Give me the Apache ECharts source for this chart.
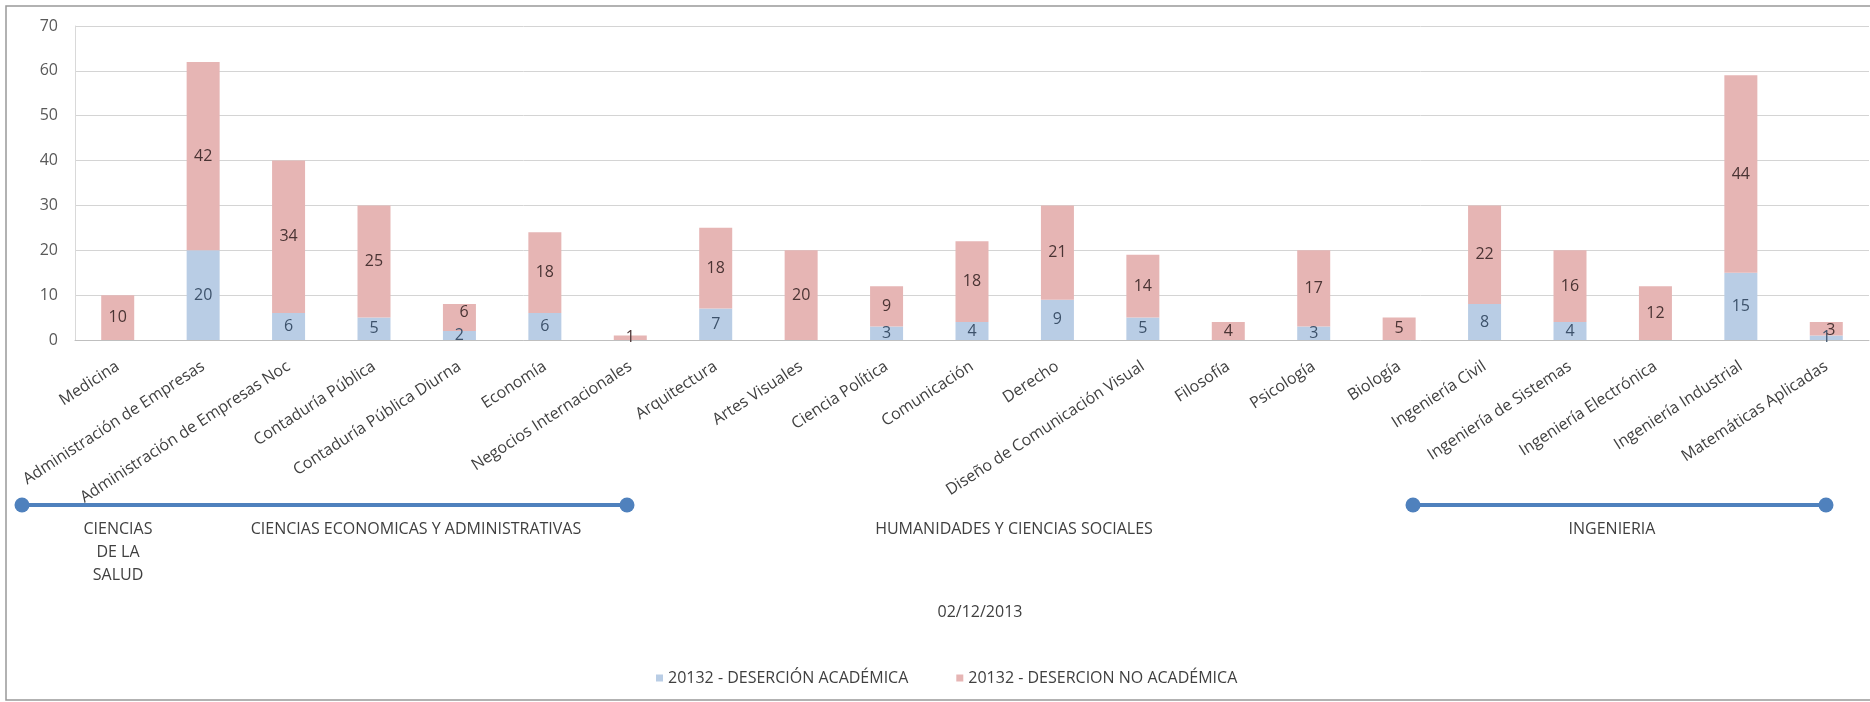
<!DOCTYPE html>
<html>
<head>
<meta charset="utf-8">
<script src="https://cdn.jsdelivr.net/npm/echarts@6/dist/echarts.min.js"></script>
<style>
html,body{margin:0;padding:0;background:#fff;}
#chart{width:1870px;height:702px;}
</style>
</head>
<body>
<div id="chart"></div>
<script>
var categories = ["Medicina","Administración de Empresas","Administración de Empresas Noc","Contaduría Pública","Contaduría Pública Diurna","Economía","Negocios Internacionales","Arquitectura","Artes Visuales","Ciencia Política","Comunicación","Derecho","Diseño de Comunicación Visual","Filosofía","Psicología","Biología","Ingeniería Civil","Ingeniería de Sistemas","Ingeniería Electrónica","Ingeniería Industrial","Matemáticas Aplicadas"];
var academica = [0,20,6,5,2,6,0,7,0,3,4,9,5,0,3,0,8,4,0,15,1];
var noAcademica = [10,42,34,25,6,18,1,18,20,9,18,21,14,4,17,5,22,16,12,44,3];
var seriesNames = ["20132 - DESERCIÓN ACADÉMICA","20132 - DESERCION NO ACADÉMICA"];
var yTicks = [0,10,20,30,40,50,60,70];
var groupLabels = ["CIENCIAS\nDE LA\nSALUD","CIENCIAS ECONOMICAS Y ADMINISTRATIVAS","HUMANIDADES Y CIENCIAS SOCIALES","INGENIERIA"];
var dateLabel = "02/12/2013";

var FONT = "Open Sans";
var chart = echarts.init(document.getElementById('chart'));

function bracket(x1, x2, y) {
  var c = '#4f81bd';
  return {
    type: 'group',
    children: [
      {type:'line', shape:{x1:x1,y1:y,x2:x2,y2:y}, style:{stroke:c,lineWidth:4}},
      {type:'circle', shape:{cx:x1,cy:y,r:7.5}, style:{fill:c}},
      {type:'circle', shape:{cx:x2,cy:y,r:7.5}, style:{fill:c}}
    ]
  };
}
function gText(txt, x, y) {
  return {type:'text', x:x, y:y, style:{text:txt, fill:'#404040', font:'16px "' + FONT + '"', align:'center', verticalAlign:'middle', lineHeight:23}};
}

var option = {
  backgroundColor: '#ffffff',
  animation: false,
  textStyle: {fontFamily: FONT},
  grid: {left: 75, right: 1, top: 26, bottom: 362, containLabel: false},
  legend: {
    left: 651, top: 665,
    icon: 'rect', itemWidth: 7, itemHeight: 7, itemGap: 48,
    textStyle: {fontFamily: FONT, fontSize: 16, color: '#404040'},
    data: seriesNames
  },
  xAxis: {
    type: 'category',
    data: categories,
    axisTick: {show: false},
    axisLine: {lineStyle: {color: '#bfbfbf', width: 1}},
    axisLabel: {interval: 0, rotate: 33, margin: 25, fontFamily: FONT, fontSize: 16, color: '#404040'}
  },
  yAxis: {
    type: 'value',
    min: yTicks[0], max: yTicks[yTicks.length-1], interval: 10,
    axisLine: {show: true, lineStyle: {color: '#d9d9d9'}},
    axisTick: {show: false},
    splitLine: {lineStyle: {color: '#d4d4d4', width: 1}},
    axisLabel: {margin: 17, fontFamily: FONT, fontSize: 16, color: '#595959'}
  },
  series: [
    {
      name: seriesNames[0], type: 'bar', stack: 'total', barWidth: 33,
      data: academica,
      itemStyle: {color: '#b9cde5'},
      label: {show: true, position: 'inside', fontFamily: FONT, fontSize: 16, color: '#3d526b',
        formatter: function(p){ return p.value ? String(p.value) : ''; }}
    },
    {
      name: seriesNames[1], type: 'bar', stack: 'total', barWidth: 33,
      data: noAcademica,
      itemStyle: {color: '#e6b5b4'},
      label: {show: true, position: 'inside', fontFamily: FONT, fontSize: 16, color: '#4a3434',
        formatter: function(p){ return p.value ? String(p.value) : ''; }},
      labelLayout: function(p) {
        if (academica[p.dataIndex] > 0 && p.rect.height < 30) {
          return {y: p.rect.y};
        }
        return {};
      }
    }
  ],
  graphic: [
    {type:'rect', shape:{x:6,y:6,width:1900,height:694}, style:{fill:'none', stroke:'#999999', lineWidth:1.5}, silent:true},
    bracket(22, 627, 505),
    bracket(1413, 1826, 505),
    gText(groupLabels[0], 118, 529 + 23),
    gText(groupLabels[1], 416, 529),
    gText(groupLabels[2], 1014, 529),
    gText(groupLabels[3], 1612, 529),
    gText(dateLabel, 980, 612)
  ]
};
chart.setOption(option);
</script>
</body>
</html>
